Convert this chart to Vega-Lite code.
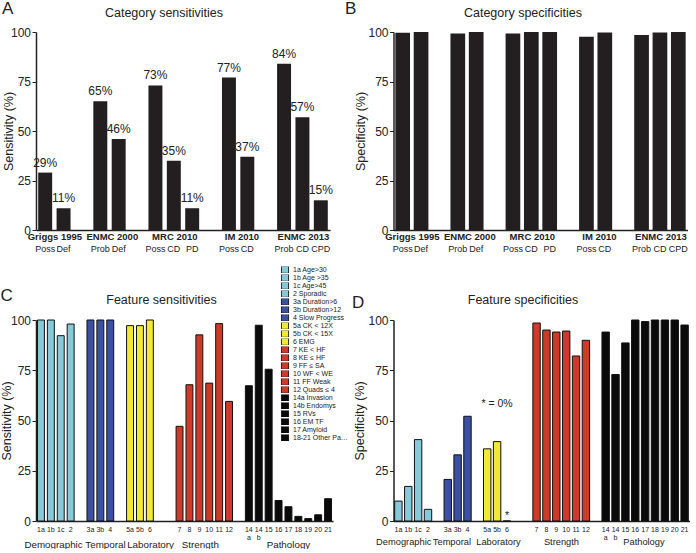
{
  "$schema": "https://vega.github.io/schema/vega-lite/v6.json",
  "background": "white",
  "padding": {"left": 0, "top": 0, "right": 2, "bottom": 0},
  "bounds": "flush",
  "columns": 2,
  "align": "each",
  "spacing": {"row": 90, "column": 60.5},
  "datasets": {
    "category": [
      {"key": "Griggs 1995|Poss", "sens": 29, "spec": 99.6, "label": "29%"},
      {"key": "Griggs 1995|Def", "sens": 11, "spec": 100, "label": "11%"},
      {"key": "ENMC 2000|Prob", "sens": 65, "spec": 99.2, "label": "65%"},
      {"key": "ENMC 2000|Def", "sens": 46, "spec": 100, "label": "46%"},
      {"key": "MRC 2010|Poss", "sens": 73, "spec": 99.2, "label": "73%"},
      {"key": "MRC 2010|CD", "sens": 35, "spec": 100, "label": "35%"},
      {"key": "MRC 2010|PD", "sens": 11, "spec": 100, "label": "11%"},
      {"key": "IM 2010|Poss", "sens": 77, "spec": 97.6, "label": "77%"},
      {"key": "IM 2010|CD", "sens": 37, "spec": 99.7, "label": "37%"},
      {"key": "ENMC 2013|Prob", "sens": 84, "spec": 98.5, "label": "84%"},
      {"key": "ENMC 2013|CD", "sens": 57, "spec": 99.7, "label": "57%"},
      {"key": "ENMC 2013|CPD", "sens": 15, "spec": 100, "label": "15%"}
    ],
    "feature": [
      {"key": "1a", "legend": "1a Age>30", "sens": 100, "spec": 9.9},
      {"key": "1b", "legend": "1b Age >35", "sens": 100, "spec": 17.2},
      {"key": "1c", "legend": "1c Age>45", "sens": 92.2, "spec": 40.5},
      {"key": "2", "legend": "2 Sporadic", "sens": 98, "spec": 5.8},
      {"key": "3a", "legend": "3a Duration>6", "sens": 100, "spec": 20.7},
      {"key": "3b", "legend": "3b Duration>12", "sens": 100, "spec": 32.9},
      {"key": "4", "legend": "4 Slow Progress", "sens": 100, "spec": 52.1},
      {"key": "5a", "legend": "5a CK < 12X", "sens": 97.2, "spec": 35.9},
      {"key": "5b", "legend": "5b CK < 15X", "sens": 97.2, "spec": 39.5},
      {"key": "6", "legend": "6 EMG", "sens": 100, "spec": 0},
      {"key": "7", "legend": "7 KE < HF", "sens": 47.1, "spec": 98.5},
      {"key": "8", "legend": "8 KE ≤ HF", "sens": 67.8, "spec": 95},
      {"key": "9", "legend": "9 FF ≤ SA", "sens": 92.6, "spec": 94},
      {"key": "10", "legend": "10 WF < WE", "sens": 68.6, "spec": 94.5},
      {"key": "11", "legend": "11 FF Weak", "sens": 98.2, "spec": 82.1},
      {"key": "12", "legend": "12 Quads ≤ 4", "sens": 59.5, "spec": 89.9},
      {"key": "14a", "legend": "14a Invasion", "sens": 67.3, "spec": 94},
      {"key": "14b", "legend": "14b Endomys", "sens": 97.4, "spec": 72.9},
      {"key": "15", "legend": "15 RVs", "sens": 75.5, "spec": 88.6},
      {"key": "16", "legend": "16 EM TF", "sens": 10.2, "spec": 100},
      {"key": "17", "legend": "17 Amyloid", "sens": 7.1, "spec": 99.2},
      {"key": "18", "legend": "18-21 Other Pathology", "sens": 2.3, "spec": 100},
      {"key": "19", "legend": "18-21 Other Pathology", "sens": 1.2, "spec": 100},
      {"key": "20", "legend": "18-21 Other Pathology", "sens": 3.1, "spec": 100},
      {"key": "21", "legend": "18-21 Other Pathology", "sens": 11.1, "spec": 97.5}
    ],
    "notes": [
      {"key": "5b", "spec": 55.5, "note": "* = 0%"},
      {"key": "6", "spec": 0, "note": "*"}
    ]
  },
  "concat": [
    {
      "width": 294,
      "height": 198,
      "data": {"name": "category"},
      "title": {"text": "A", "anchor": "start", "frame": "bounds", "fontSize": 17, "fontWeight": "normal", "baseline": "alphabetic", "offset": -25, "dx": -1},
      "layer": [
        {
          "mark": {"type": "bar", "color": "#231f20"},
          "encoding": {
            "x": {"field": "key", "type": "nominal", "scale": {"domain": ["Griggs 1995|Poss", "Griggs 1995|Def", "gapA", "ENMC 2000|Prob", "ENMC 2000|Def", "gapB", "MRC 2010|Poss", "MRC 2010|CD", "MRC 2010|PD", "gapC", "IM 2010|Poss", "IM 2010|CD", "gapD", "ENMC 2013|Prob", "ENMC 2013|CD", "ENMC 2013|CPD"], "paddingInner": 0.24, "paddingOuter": 0.12},
              "axis": {"orient": "bottom", "title": null, "ticks": false, "labelAngle": 0, "labelOverlap": false, "labelFontSize": 9, "labelPadding": 14, "labelExpr": "indexof(datum.value, '|') < 0 ? '' : split(datum.value, '|')[1]", "domainWidth": 1.5}},
            "y": {"field": "sens", "type": "quantitative", "scale": {"domain": [0, 100]},
              "axis": {"title": "Sensitivity (%)", "values": [0, 25, 50, 75, 100], "tickSize": 4, "labelPadding": 1.5, "labelFontSize": 12, "titleFontSize": 12.5, "titleFontWeight": "normal", "titlePadding": -5.5, "domainWidth": 1.5}}
          }
        },
        {
          "mark": {"type": "text", "baseline": "alphabetic", "dy": -6, "fontSize": 12, "color": "#222"},
          "encoding": {
            "x": {"field": "key", "type": "nominal", "scale": {"domain": ["Griggs 1995|Poss", "Griggs 1995|Def", "gapA", "ENMC 2000|Prob", "ENMC 2000|Def", "gapB", "MRC 2010|Poss", "MRC 2010|CD", "MRC 2010|PD", "gapC", "IM 2010|Poss", "IM 2010|CD", "gapD", "ENMC 2013|Prob", "ENMC 2013|CD", "ENMC 2013|CPD"], "paddingInner": 0.24, "paddingOuter": 0.12},
              "axis": {"orient": "bottom", "title": null, "ticks": false, "domain": false, "labelAngle": 0, "labelOverlap": false, "labelFontSize": 9.5, "labelFontWeight": "bold", "labelPadding": 1.5,
                "labelExpr": "indexof(['Griggs 1995|Poss', 'ENMC 2000|Prob', 'MRC 2010|CD', 'IM 2010|Poss', 'ENMC 2013|CD'], datum.value) >= 0 ? split(datum.value, '|')[0] : ''",
                "labelOffset": {"condition": [{"test": "datum.value == 'Griggs 1995|Poss'", "value": 9.7}, {"test": "datum.value == 'ENMC 2000|Prob'", "value": 12}, {"test": "datum.value == 'IM 2010|Poss'", "value": 13}], "value": 1}}},
            "y": {"field": "sens", "type": "quantitative"},
            "text": {"field": "label"}
          }
        },
        {
          "mark": {"type": "text", "text": ""},
          "encoding": {
            "x": {"field": "key", "type": "nominal", "scale": {"domain": ["Griggs 1995|Poss", "Griggs 1995|Def", "gapA", "ENMC 2000|Prob", "ENMC 2000|Def", "gapB", "MRC 2010|Poss", "MRC 2010|CD", "MRC 2010|PD", "gapC", "IM 2010|Poss", "IM 2010|CD", "gapD", "ENMC 2013|Prob", "ENMC 2013|CD", "ENMC 2013|CPD"], "paddingInner": 0.24, "paddingOuter": 0.12},
              "axis": {"orient": "top", "title": "Category sensitivities", "labels": false, "ticks": false, "domain": false, "titleX": 127.5, "titleY": -16, "titleAlign": "center", "titleBaseline": "alphabetic", "titleFontSize": 12.5, "titleFontWeight": "normal"}},
            "y": {"field": "sens", "type": "quantitative"}
          }
        }
      ],
      "resolve": {"axis": {"x": "independent"}}
    },
    {
      "width": 294,
      "height": 198,
      "data": {"name": "category"},
      "title": {"text": "B", "anchor": "start", "frame": "bounds", "fontSize": 17, "fontWeight": "normal", "baseline": "alphabetic", "offset": -25, "dx": -10},
      "layer": [
        {
          "mark": {"type": "bar", "color": "#231f20"},
          "encoding": {
            "x": {"field": "key", "type": "nominal", "scale": {"domain": ["Griggs 1995|Poss", "Griggs 1995|Def", "gapA", "ENMC 2000|Prob", "ENMC 2000|Def", "gapB", "MRC 2010|Poss", "MRC 2010|CD", "MRC 2010|PD", "gapC", "IM 2010|Poss", "IM 2010|CD", "gapD", "ENMC 2013|Prob", "ENMC 2013|CD", "ENMC 2013|CPD"], "paddingInner": 0.2, "paddingOuter": 0.1},
              "axis": {"orient": "bottom", "title": null, "ticks": false, "labelAngle": 0, "labelOverlap": false, "labelFontSize": 9, "labelPadding": 14, "labelExpr": "indexof(datum.value, '|') < 0 ? '' : split(datum.value, '|')[1]", "domainWidth": 1.5}},
            "y": {"field": "spec", "type": "quantitative", "scale": {"domain": [0, 100]},
              "axis": {"title": "Specificity (%)", "values": [0, 25, 50, 75, 100], "tickSize": 4, "labelPadding": 1.5, "labelFontSize": 12, "titleFontSize": 12.5, "titleFontWeight": "normal", "titlePadding": 0, "domainWidth": 1.5}}
          }
        },
        {
          "mark": {"type": "text", "text": ""},
          "encoding": {
            "x": {"field": "key", "type": "nominal", "scale": {"domain": ["Griggs 1995|Poss", "Griggs 1995|Def", "gapA", "ENMC 2000|Prob", "ENMC 2000|Def", "gapB", "MRC 2010|Poss", "MRC 2010|CD", "MRC 2010|PD", "gapC", "IM 2010|Poss", "IM 2010|CD", "gapD", "ENMC 2013|Prob", "ENMC 2013|CD", "ENMC 2013|CPD"], "paddingInner": 0.2, "paddingOuter": 0.1},
              "axis": {"orient": "bottom", "title": null, "ticks": false, "domain": false, "labelAngle": 0, "labelOverlap": false, "labelFontSize": 9.5, "labelFontWeight": "bold", "labelPadding": 1.5,
                "labelExpr": "indexof(['Griggs 1995|Poss', 'ENMC 2000|Prob', 'MRC 2010|CD', 'IM 2010|Poss', 'ENMC 2013|CD'], datum.value) >= 0 ? split(datum.value, '|')[0] : ''",
                "labelOffset": {"condition": [{"test": "datum.value == 'Griggs 1995|Poss'", "value": 9.7}, {"test": "datum.value == 'ENMC 2000|Prob'", "value": 12}, {"test": "datum.value == 'IM 2010|Poss'", "value": 13}], "value": 1}}},
            "y": {"field": "spec", "type": "quantitative"}
          }
        },
        {
          "mark": {"type": "text", "text": ""},
          "encoding": {
            "x": {"field": "key", "type": "nominal", "scale": {"domain": ["Griggs 1995|Poss", "Griggs 1995|Def", "gapA", "ENMC 2000|Prob", "ENMC 2000|Def", "gapB", "MRC 2010|Poss", "MRC 2010|CD", "MRC 2010|PD", "gapC", "IM 2010|Poss", "IM 2010|CD", "gapD", "ENMC 2013|Prob", "ENMC 2013|CD", "ENMC 2013|CPD"], "paddingInner": 0.2, "paddingOuter": 0.1},
              "axis": {"orient": "top", "title": "Category specificities", "labels": false, "ticks": false, "domain": false, "titleX": 129, "titleY": -16, "titleAlign": "center", "titleBaseline": "alphabetic", "titleFontSize": 12.5, "titleFontWeight": "normal"}},
            "y": {"field": "spec", "type": "quantitative"}
          }
        }
      ],
      "resolve": {"axis": {"x": "independent"}}
    },
    {
      "width": 297,
      "height": 201,
      "data": {"name": "feature"},
      "title": {"text": "C", "anchor": "start", "frame": "bounds", "fontSize": 17, "fontWeight": "normal", "baseline": "alphabetic", "offset": -25, "dx": 0},
      "layer": [
        {
          "mark": {"type": "bar", "stroke": "#111111", "strokeWidth": 1},
          "encoding": {
            "x": {"field": "key", "type": "nominal", "scale": {"domain": ["1a", "1b", "1c", "2", "g1", "3a", "3b", "4", "g2", "5a", "5b", "6", "g3", "g4", "7", "8", "9", "10", "11", "12", "g5", "14a", "14b", "15", "16", "17", "18", "19", "20", "21"], "paddingInner": 0.3, "paddingOuter": 0.15},
              "axis": {"orient": "bottom", "title": null, "ticks": false, "labelAngle": 0, "labelOverlap": false, "labelFontSize": 7, "labelLineHeight": 8, "labelPadding": 4, "labelExpr": "datum.value == '14a' ? ['14', 'a'] : datum.value == '14b' ? ['14', 'b'] : (indexof(datum.value, 'g') == 0 ? '' : datum.value)", "domainWidth": 1.5}},
            "y": {"field": "sens", "type": "quantitative", "scale": {"domain": [0, 100]},
              "axis": {"title": "Sensitivity (%)", "values": [0, 25, 50, 75, 100], "tickSize": 4, "labelPadding": 1.5, "labelFontSize": 12, "titleFontSize": 12.5, "titleFontWeight": "normal", "titlePadding": -3, "domainWidth": 1.5}},
            "color": {"field": "legend", "type": "nominal",
              "scale": {"domain": ["1a Age>30", "1b Age >35", "1c Age>45", "2 Sporadic", "3a Duration>6", "3b Duration>12", "4 Slow Progress", "5a CK < 12X", "5b CK < 15X", "6 EMG", "7 KE < HF", "8 KE ≤ HF", "9 FF ≤ SA", "10 WF < WE", "11 FF Weak", "12 Quads ≤ 4", "14a Invasion", "14b Endomys", "15 RVs", "16 EM TF", "17 Amyloid", "18-21 Other Pathology"],
                "range": ["#86cad9", "#86cad9", "#86cad9", "#86cad9", "#3b50a2", "#3b50a2", "#3b50a2", "#f3e838", "#f3e838", "#f3e838", "#cd3a2a", "#cd3a2a", "#cd3a2a", "#cd3a2a", "#cd3a2a", "#cd3a2a", "#0a0a0a", "#0a0a0a", "#0a0a0a", "#0a0a0a", "#0a0a0a", "#0a0a0a"]},
              "legend": {"orient": "none", "legendX": 245, "legendY": 234.5, "title": null, "padding": 0, "symbolType": "square", "symbolSize": 50, "symbolStrokeColor": "#000000", "symbolStrokeWidth": 0.8, "rowPadding": 0, "clipHeight": 6.4, "labelFontSize": 7, "labelOffset": 4, "labelLimit": 55, "labelColor": "#222"}}
          }
        },
        {
          "mark": {"type": "text", "text": ""},
          "encoding": {
            "x": {"field": "key", "type": "nominal", "scale": {"domain": ["1a", "1b", "1c", "2", "g1", "3a", "3b", "4", "g2", "5a", "5b", "6", "g3", "g4", "7", "8", "9", "10", "11", "12", "g5", "14a", "14b", "15", "16", "17", "18", "19", "20", "21"], "paddingInner": 0.3, "paddingOuter": 0.15},
              "axis": {"orient": "bottom", "title": null, "ticks": false, "domain": false, "labelAngle": 0, "labelOverlap": false, "labelFontSize": 9.8, "labelPadding": 18,
                "labelExpr": "datum.value == '1b' ? 'Demographic' : datum.value == '4' ? 'Temporal' : datum.value == '6' ? 'Laboratory' : datum.value == '9' ? 'Strength' : datum.value == '17' ? 'Pathology' : ''",
                "labelOffset": {"condition": [{"test": "datum.value == '1b'", "value": 2.7}, {"test": "datum.value == '4'", "value": -4.8}, {"test": "datum.value == '6'", "value": 0.7}, {"test": "datum.value == '9'", "value": 1}], "value": 0}}},
            "y": {"field": "sens", "type": "quantitative"}
          }
        },
        {
          "mark": {"type": "text", "text": ""},
          "encoding": {
            "x": {"field": "key", "type": "nominal", "scale": {"domain": ["1a", "1b", "1c", "2", "g1", "3a", "3b", "4", "g2", "5a", "5b", "6", "g3", "g4", "7", "8", "9", "10", "11", "12", "g5", "14a", "14b", "15", "16", "17", "18", "19", "20", "21"], "paddingInner": 0.3, "paddingOuter": 0.15},
              "axis": {"orient": "top", "title": "Feature sensitivities", "labels": false, "ticks": false, "domain": false, "titleX": 125, "titleY": -17, "titleAlign": "center", "titleBaseline": "alphabetic", "titleFontSize": 12.5, "titleFontWeight": "normal"}},
            "y": {"field": "sens", "type": "quantitative"}
          }
        }
      ],
      "resolve": {"axis": {"x": "independent"}}
    },
    {
      "width": 296,
      "height": 201,
      "data": {"name": "feature"},
      "title": {"text": "D", "anchor": "start", "frame": "bounds", "fontSize": 17, "fontWeight": "normal", "baseline": "alphabetic", "offset": -32, "dx": -2},
      "layer": [
        {
          "mark": {"type": "bar", "stroke": "#111111", "strokeWidth": 1},
          "encoding": {
            "x": {"field": "key", "type": "nominal", "scale": {"domain": ["1a", "1b", "1c", "2", "g1", "3a", "3b", "4", "g2", "5a", "5b", "6", "g3", "g4", "7", "8", "9", "10", "11", "12", "g5", "14a", "14b", "15", "16", "17", "18", "19", "20", "21"], "paddingInner": 0.25, "paddingOuter": 0.12},
              "axis": {"orient": "bottom", "title": null, "ticks": false, "labelAngle": 0, "labelOverlap": false, "labelFontSize": 7, "labelLineHeight": 8, "labelPadding": 4, "labelExpr": "datum.value == '14a' ? ['14', 'a'] : datum.value == '14b' ? ['14', 'b'] : (indexof(datum.value, 'g') == 0 ? '' : datum.value)", "domainWidth": 1.5}},
            "y": {"field": "spec", "type": "quantitative", "scale": {"domain": [0, 100]},
              "axis": {"title": "Specificity (%)", "values": [0, 25, 50, 75, 100], "tickSize": 4, "labelPadding": 1.5, "labelFontSize": 12, "titleFontSize": 12.5, "titleFontWeight": "normal", "titlePadding": 1, "domainWidth": 1.5}},
            "color": {"field": "legend", "type": "nominal",
              "scale": {"domain": ["1a Age>30", "1b Age >35", "1c Age>45", "2 Sporadic", "3a Duration>6", "3b Duration>12", "4 Slow Progress", "5a CK < 12X", "5b CK < 15X", "6 EMG", "7 KE < HF", "8 KE ≤ HF", "9 FF ≤ SA", "10 WF < WE", "11 FF Weak", "12 Quads ≤ 4", "14a Invasion", "14b Endomys", "15 RVs", "16 EM TF", "17 Amyloid", "18-21 Other Pathology"],
                "range": ["#86cad9", "#86cad9", "#86cad9", "#86cad9", "#3b50a2", "#3b50a2", "#3b50a2", "#f3e838", "#f3e838", "#f3e838", "#cd3a2a", "#cd3a2a", "#cd3a2a", "#cd3a2a", "#cd3a2a", "#cd3a2a", "#0a0a0a", "#0a0a0a", "#0a0a0a", "#0a0a0a", "#0a0a0a", "#0a0a0a"]},
              "legend": null}
          }
        },
        {
          "data": {"name": "notes"},
          "mark": {"type": "text", "baseline": "bottom", "color": "#222", "fontSize": 10.5},
          "encoding": {
            "x": {"field": "key", "type": "nominal", "scale": {"domain": ["1a", "1b", "1c", "2", "g1", "3a", "3b", "4", "g2", "5a", "5b", "6", "g3", "g4", "7", "8", "9", "10", "11", "12", "g5", "14a", "14b", "15", "16", "17", "18", "19", "20", "21"], "paddingInner": 0.25, "paddingOuter": 0.12},
              "axis": {"orient": "bottom", "title": null, "ticks": false, "domain": false, "labelAngle": 0, "labelOverlap": false, "labelFontSize": 9.3, "labelPadding": 16.5,
                "labelExpr": "datum.value == '1b' ? 'Demographic' : datum.value == '3a' ? 'Temporal' : datum.value == '5b' ? 'Laboratory' : datum.value == '10' ? 'Strength' : datum.value == '17' ? 'Pathology' : ''",
                "labelOffset": {"condition": [{"test": "datum.value == '1b'", "value": -4.5}, {"test": "datum.value == '3a'", "value": 4.2}, {"test": "datum.value == '5b'", "value": 1.4}, {"test": "datum.value == '10'", "value": -4.7}], "value": -1.2}}},
            "y": {"field": "spec", "type": "quantitative"},
            "text": {"field": "note"}
          }
        },
        {
          "mark": {"type": "text", "text": ""},
          "encoding": {
            "x": {"field": "key", "type": "nominal", "scale": {"domain": ["1a", "1b", "1c", "2", "g1", "3a", "3b", "4", "g2", "5a", "5b", "6", "g3", "g4", "7", "8", "9", "10", "11", "12", "g5", "14a", "14b", "15", "16", "17", "18", "19", "20", "21"], "paddingInner": 0.25, "paddingOuter": 0.12},
              "axis": {"orient": "top", "title": "Feature specificities", "labels": false, "ticks": false, "domain": false, "titleX": 129, "titleY": -17, "titleAlign": "center", "titleBaseline": "alphabetic", "titleFontSize": 12.5, "titleFontWeight": "normal"}},
            "y": {"field": "spec", "type": "quantitative"}
          }
        }
      ],
      "resolve": {"axis": {"x": "independent"}}
    }
  ],
  "config": {
    "font": "Liberation Sans",
    "view": {"stroke": null},
    "axis": {"grid": false, "labelColor": "#222", "titleColor": "#222", "domainColor": "#222", "tickColor": "#222"},
    "title": {"color": "#222"}
  }
}
